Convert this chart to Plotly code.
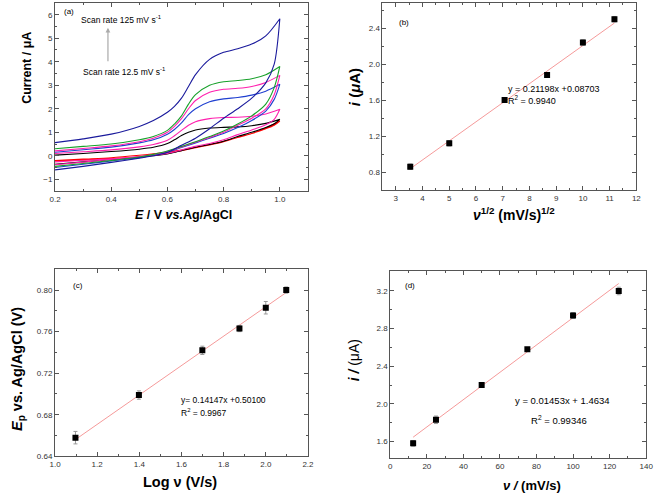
import plotly.graph_objects as go

# ---------------- Panel (a): cyclic voltammograms ----------------
E_fwd = [0.2, 0.3, 0.4, 0.5, 0.55, 0.6, 0.625, 0.65, 0.675, 0.7, 0.75, 0.8, 0.85, 0.9, 0.95, 1.0]
E_rev = [1.0, 0.98, 0.95, 0.9, 0.85, 0.8, 0.75, 0.7, 0.65, 0.6, 0.55, 0.5, 0.4, 0.3, 0.2]

red_fwd = [-0.20, -0.14, -0.08, 0.02, 0.08, 0.15, 0.20, 0.25, 0.30, 0.36, 0.48, 0.62, 0.78, 0.95, 1.18, 1.48]
red_rev = [1.48, 1.30, 1.15, 0.95, 0.78, 0.60, 0.46, 0.34, 0.22, 0.10, 0.02, -0.05, -0.13, -0.18, -0.22]
black_fwd = [0.03, 0.10, 0.18, 0.28, 0.36, 0.52, 0.68, 0.86, 1.00, 1.10, 1.18, 1.21, 1.23, 1.28, 1.38, 1.55]
black_rev = [1.55, 1.36, 1.20, 1.00, 0.82, 0.62, 0.48, 0.37, 0.22, 0.08, 0.00, -0.06, -0.16, -0.26, -0.36]
pink1_fwd = [0.10, 0.17, 0.25, 0.38, 0.48, 0.66, 0.85, 1.08, 1.30, 1.45, 1.58, 1.63, 1.64, 1.68, 1.78, 1.98]
pink1_rev = [1.98, 1.55, 1.32, 1.10, 0.90, 0.68, 0.52, 0.40, 0.25, 0.10, 0.02, -0.04, -0.13, -0.19, -0.26]
blue_fwd = [0.15, 0.26, 0.37, 0.55, 0.68, 0.92, 1.12, 1.40, 1.75, 2.00, 2.30, 2.42, 2.48, 2.58, 2.75, 3.04]
blue_rev = [3.04, 2.40, 1.90, 1.50, 1.20, 0.95, 0.75, 0.55, 0.35, 0.15, 0.02, -0.08, -0.22, -0.36, -0.50]
pink2_fwd = [0.21, 0.31, 0.42, 0.60, 0.75, 1.00, 1.25, 1.58, 2.00, 2.35, 2.70, 2.83, 2.87, 2.95, 3.12, 3.42]
pink2_rev = [3.42, 2.60, 2.00, 1.60, 1.30, 1.00, 0.78, 0.58, 0.38, 0.18, 0.05, -0.03, -0.15, -0.27, -0.38]
green_fwd = [0.30, 0.40, 0.50, 0.68, 0.82, 1.08, 1.35, 1.70, 2.20, 2.60, 3.00, 3.15, 3.20, 3.28, 3.45, 3.80]
green_rev = [3.80, 2.90, 2.20, 1.70, 1.35, 1.05, 0.82, 0.60, 0.40, 0.20, 0.06, -0.05, -0.20, -0.33, -0.45]
navy_fwd = [0.56, 0.72, 0.92, 1.25, 1.50, 1.85, 2.10, 2.45, 2.95, 3.45, 4.10, 4.40, 4.55, 4.75, 5.10, 5.83]
navy_rev = [5.83, 3.90, 3.10, 2.45, 2.00, 1.60, 1.15, 0.75, 0.45, 0.15, 0.00, -0.10, -0.28, -0.45, -0.60]

cv_series = [
    ("red", red_fwd, red_rev),
    ("black", black_fwd, black_rev),
    ("#ff1fae", pink1_fwd, pink1_rev),
    ("#1f3fd0", blue_fwd, blue_rev),
    ("#ff1fae", pink2_fwd, pink2_rev),
    ("#17a02a", green_fwd, green_rev),
    ("#1a1a9c", navy_fwd, navy_rev),
]

# ---------------- Panel (b) ----------------
b_x = [3.54, 5.0, 7.07, 8.66, 10.0, 11.18]
b_y = [0.86, 1.12, 1.60, 1.88, 2.24, 2.50]
b_err = [0.03, 0.03, 0.02, 0.02, 0.03, 0.03]
b_slope, b_int = 0.21198, 0.08703

# ---------------- Panel (c) ----------------
c_x = [1.097, 1.398, 1.699, 1.875, 2.0, 2.097]
c_y = [0.658, 0.699, 0.742, 0.763, 0.783, 0.800]
c_err = [0.006, 0.004, 0.004, 0.003, 0.006, 0.003]
c_slope, c_int = 0.14147, 0.50100

# ---------------- Panel (d) ----------------
d_x = [12.5, 25, 50, 75, 100, 125]
d_y = [1.58, 1.83, 2.20, 2.58, 2.94, 3.20]
d_err = [0.03, 0.04, 0.02, 0.02, 0.03, 0.04]
d_slope, d_int = 0.01453, 1.4634

fig = go.Figure()

for color, fwd, rev in cv_series:
    fig.add_trace(go.Scatter(x=E_fwd + E_rev, y=fwd + rev, mode="lines",
                             line=dict(color=color, width=1.1, shape="spline", smoothing=0.8),
                             xaxis="x", yaxis="y", showlegend=False, hoverinfo="skip"))

fit_col = "#f59a9a"
err_col = "#999999"

def add_panel(xs, ys, errs, slope, icpt, ax):
    x0, x1 = xs[0], xs[-1]
    fig.add_trace(go.Scatter(x=[x0, x1], y=[slope * x0 + icpt, slope * x1 + icpt], mode="lines",
                             line=dict(color=fit_col, width=1), xaxis="x" + ax, yaxis="y" + ax,
                             showlegend=False))
    fig.add_trace(go.Scatter(x=xs, y=ys, mode="markers",
                             marker=dict(symbol="square", size=6, color="black"),
                             error_y=dict(type="data", array=errs, color=err_col, thickness=1, width=2),
                             xaxis="x" + ax, yaxis="y" + ax, showlegend=False))

add_panel(b_x, b_y, b_err, b_slope, b_int, "2")
add_panel(c_x, c_y, c_err, c_slope, c_int, "3")
add_panel(d_x, d_y, d_err, d_slope, d_int, "4")

W, H = 661, 498
def dx(a, b):
    return [a / W, b / W]
def dy(top, bottom):
    return [1 - bottom / H, 1 - top / H]

axis_common = dict(showline=True, linecolor="#555", linewidth=1, mirror="ticks",
                   ticks="inside", ticklen=4, tickcolor="#555", showgrid=False, zeroline=False,
                   tickfont=dict(family="Liberation Sans, Arial", size=8, color="#333"),
                   minor=dict(ticks="inside", ticklen=2, tickcolor="#555", showgrid=False))

def ax(domain, rng, dtick, tick0, fmt, minor_dtick, anchor):
    d = dict(axis_common)
    d["minor"] = dict(axis_common["minor"], dtick=minor_dtick, tick0=tick0)
    d.update(domain=domain, range=rng, dtick=dtick, tick0=tick0, tickformat=fmt, anchor=anchor)
    return d

fig.update_layout(
    width=W, height=H, margin=dict(l=0, r=0, t=0, b=0),
    paper_bgcolor="white", plot_bgcolor="white",
    font=dict(family="Liberation Sans, Arial", color="black"),
    xaxis=ax(dx(50, 308), [0.2, 1.1], 0.2, 0.2, ".1f", 0.1, "y"),
    yaxis=ax(dy(3, 193), [-1.5, 6.5], 1, 0, "d", 0.5, "x"),
    xaxis2=ax(dx(384, 643), [2.5, 12], 1, 3, "d", 0.5, "y2"),
    yaxis2=ax(dy(3, 192), [0.6, 2.68], 0.4, 0.8, ".1f", 0.2, "x2"),
    xaxis3=ax(dx(50, 308), [1.0, 2.2], 0.2, 1.0, ".1f", 0.1, "y3"),
    yaxis3=ax(dy(272, 461), [0.64, 0.82], 0.04, 0.64, ".2f", 0.02, "x3"),
    xaxis4=ax(dx(392, 653), [0, 140], 20, 0, "d", 10, "y4"),
    yaxis4=ax(dy(274, 463), [1.42, 3.41], 0.4, 1.6, ".1f", 0.2, "x4"),
)

def txt(x, y, text, size=8, angle=0, xanchor="center", color="black"):
    fig.add_annotation(x=x / W, y=1 - y / H, xref="paper", yref="paper", text=text,
                       showarrow=False, textangle=angle, xanchor=xanchor, yanchor="middle",
                       font=dict(family="Liberation Sans, Arial", size=size, color=color))

# Panel (a) annotations
txt(57, 12, "(a)", 8, xanchor="left")
txt(74, 20, "Scan rate 125 mV s<sup>-1</sup>", 8.5, xanchor="left")
txt(76, 72, "Scan rate 12.5 mV s<sup>-1</sup>", 8.5, xanchor="left")
fig.add_annotation(x=104 / W, y=1 - 28 / H, ax=0, ay=35, xref="paper", yref="paper",
                   axref="pixel", ayref="pixel", showarrow=True, arrowhead=2, arrowsize=0.8,
                   arrowwidth=1.2, arrowcolor="#aaaaaa", text="")
txt(22, 69, "<b>Current / μA</b>", 12.5, angle=-90)
txt(181, 217, "<b><i>E</i> / V <i>vs.</i>Ag/AgCl</b>", 12.5)

# Panel (b)
txt(399, 23, "(b)", 8, xanchor="left")
txt(510, 90, "y = 0.21198x +0.08703", 9, xanchor="left")
txt(510, 101, "R<sup>2</sup> = 0.9940", 9, xanchor="left")
txt(355, 88, "<b><i>i</i> (<i>μ</i>A)</b>", 15, angle=-90)
txt(518, 216, "<b><i>ν</i><sup>1/2</sup> (mV/s)<sup>1/2</sup></b>", 14)

# Panel (c)
txt(66, 288, "(c)", 8, xanchor="left")
txt(176, 404, "y= 0.14147x +0.50100", 8.5, xanchor="left")
txt(176, 417, "R<sup>2</sup> = 0.9967", 8.5, xanchor="left")
txt(12, 373, "<b><i>E</i><sub>p</sub> vs. Ag/AgCl (V)</b>", 14.5, angle=-90)
txt(178, 487, "<b>Log ν (V/s)</b>", 14.5)

# Panel (d)
txt(405, 288, "(d)", 8, xanchor="left")
txt(517, 405, "y = 0.01453x + 1.4634", 9.5, xanchor="left")
txt(533, 424, "R<sup>2</sup> = 0.99346", 9.5, xanchor="left")
txt(355, 364, "<b><i>i /</i></b> (μA)", 14, angle=-90)
txt(537, 490, "<b><i>ν /</i> (mV/s)</b>", 13)

fig.write_html("out.html", config={"displayModeBar": False},
               post_script="document.body.style.margin='0';document.body.style.overflow='hidden';")
